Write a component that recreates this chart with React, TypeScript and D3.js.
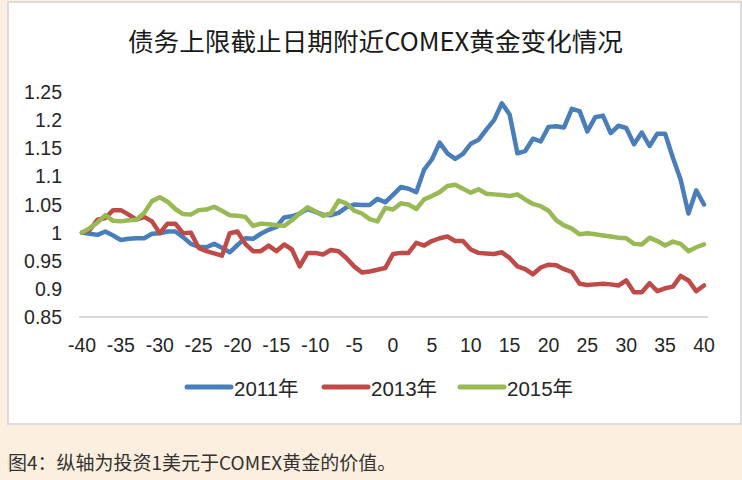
import { scaleLinear, line, range } from "d3";

// days relative to the debt ceiling deadline
const days = range(-40, 41);
const xTickLabels = ["-40", "-35", "-30", "-25", "-20", "-15", "-10", "-5", "0", "5", "10", "15", "20", "25", "30", "35", "40"];
const yTickValues = [0.85, 0.9, 0.95, 1, 1.05, 1.1, 1.15, 1.2, 1.25];

const gold2011 = [
	1.0, 0.998, 0.996, 1.002, 0.995, 0.987, 0.989, 0.99, 0.99, 0.998,
	0.999, 1.002, 1.002, 0.992, 0.98, 0.975, 0.974, 0.98, 0.973, 0.965,
	0.978, 0.99, 0.989, 0.998, 1.005, 1.01, 1.027, 1.029, 1.034, 1.042,
	1.037, 1.032, 1.031, 1.035, 1.045, 1.05, 1.049, 1.049, 1.06, 1.054,
	1.067, 1.081, 1.078, 1.072, 1.112, 1.13, 1.16, 1.141, 1.131, 1.14,
	1.158, 1.165, 1.183, 1.2, 1.23, 1.21, 1.141, 1.145, 1.167, 1.162,
	1.188, 1.189, 1.187, 1.22, 1.216, 1.18, 1.205, 1.208, 1.177, 1.19,
	1.186, 1.157, 1.178, 1.154, 1.176, 1.176, 1.133, 1.094, 1.034, 1.075, 1.05,
];
const gold2013 = [
	1.0, 1.005, 1.023, 1.026, 1.04, 1.04, 1.032, 1.023, 1.028, 1.02,
	0.999, 1.016, 1.016, 0.999, 1.0, 0.973, 0.967, 0.963, 0.959, 0.999,
	1.002, 0.98, 0.967, 0.967, 0.977, 0.967, 0.979, 0.97, 0.94, 0.964,
	0.964, 0.961, 0.969, 0.967, 0.955, 0.94, 0.929, 0.931, 0.934, 0.937,
	0.962, 0.964, 0.964, 0.982, 0.977, 0.985, 0.99, 0.993, 0.985, 0.985,
	0.97, 0.964, 0.963, 0.962, 0.965, 0.955, 0.94, 0.935, 0.926, 0.938,
	0.943, 0.942, 0.935, 0.93, 0.909, 0.907, 0.908, 0.909, 0.908, 0.906,
	0.915, 0.894, 0.894, 0.91, 0.896, 0.901, 0.904, 0.923, 0.915, 0.896, 0.906,
];
const gold2015 = [
	1.0, 1.008, 1.018, 1.031, 1.021, 1.02, 1.022, 1.023, 1.035, 1.056,
	1.063, 1.055, 1.042, 1.033, 1.032, 1.04, 1.041, 1.046, 1.039, 1.031,
	1.03, 1.028, 1.012, 1.016, 1.015, 1.013, 1.012, 1.022, 1.034, 1.045,
	1.038, 1.03, 1.034, 1.057, 1.052, 1.039, 1.034, 1.024, 1.02, 1.044,
	1.041, 1.052, 1.05, 1.042, 1.059, 1.065, 1.072, 1.083, 1.085, 1.078,
	1.071, 1.077, 1.069, 1.068, 1.067, 1.065, 1.068, 1.059, 1.051, 1.047,
	1.039, 1.022, 1.013, 1.007, 0.997, 0.999, 0.997, 0.995, 0.993, 0.991,
	0.99, 0.98, 0.979, 0.991, 0.985, 0.977, 0.984, 0.98, 0.967, 0.974, 0.979,
];

const seriesNames = ["2011年", "2013年", "2015年"];
const seriesColors = ["#4a7ebb", "#be4b48", "#98b954"];

const W = 742;
const H = 480;
const sans = "'Liberation Sans', Arial, sans-serif";
const cjk = "'Noto Sans CJK SC', 'Liberation Sans', sans-serif";

export default function App() {
	const x = scaleLinear().domain([-40, 40]).range([82, 704]);
	const y = scaleLinear().domain([0.85, 1.25]).range([317, 92]);
	const series = [gold2011, gold2013, gold2015];
	const path = line<number>()
		.x((_, i) => x(days[i]))
		.y((v) => y(v));

	const legendX = [185, 322, 458];

	return (
		<svg
			width={W}
			height={H}
			style={{ position: "absolute", left: 0, top: 0 }}
		>
			<rect x={0} y={0} width={W} height={H} fill="#fcefdf" />
			<rect x={8} y={2} width={733} height={422} fill="#fff" stroke="#dcdcdc" strokeWidth={2} />

			<text
				x={375.5}
				y={51}
				textAnchor="middle"
				fontFamily={cjk}
				fontSize={25}
				fill="#1a1a1a"
				textLength={495}
				lengthAdjust="spacingAndGlyphs"
			>
				债务上限截止日期附近COMEX黄金变化情况
			</text>

			{yTickValues.map((v) => (
				<text
					key={v}
					x={62}
					y={y(v)}
					dy="0.36em"
					textAnchor="end"
					fontFamily={sans}
					fontSize={19.5}
					fill="#262626"
				>
					{String(v)}
				</text>
			))}

			<line x1={79} x2={708} y1={317} y2={317} stroke="#d9d9d9" strokeWidth={2} />

			{xTickLabels.map((t) => (
				<text
					key={t}
					x={x(+t)}
					y={352}
					textAnchor="middle"
					fontFamily={sans}
					fontSize={19.5}
					fill="#262626"
				>
					{t}
				</text>
			))}

			{series.map((s, i) => (
				<path
					key={seriesNames[i]}
					d={path(s) ?? ""}
					fill="none"
					stroke={seriesColors[i]}
					strokeWidth={4.5}
					strokeLinejoin="round"
					strokeLinecap="round"
				/>
			))}

			{seriesNames.map((name, i) => (
				<g key={name}>
					<line
						x1={legendX[i] + 2}
						x2={legendX[i] + 46}
						y1={387}
						y2={387}
						stroke={seriesColors[i]}
						strokeWidth={5}
						strokeLinecap="round"
					/>
					<text
						x={legendX[i] + 49}
						y={396}
						fontFamily={cjk}
						fontSize={20.5}
						fill="#262626"
					>
						<tspan fontFamily={sans}>{name.slice(0, 4)}</tspan>
						{name.slice(4)}
					</text>
				</g>
			))}

			<text x={8} y={470} fontFamily={cjk} fontSize={19} fill="#333">
				图4：纵轴为投资1美元于COMEX黄金的价值。
			</text>
		</svg>
	);
}
